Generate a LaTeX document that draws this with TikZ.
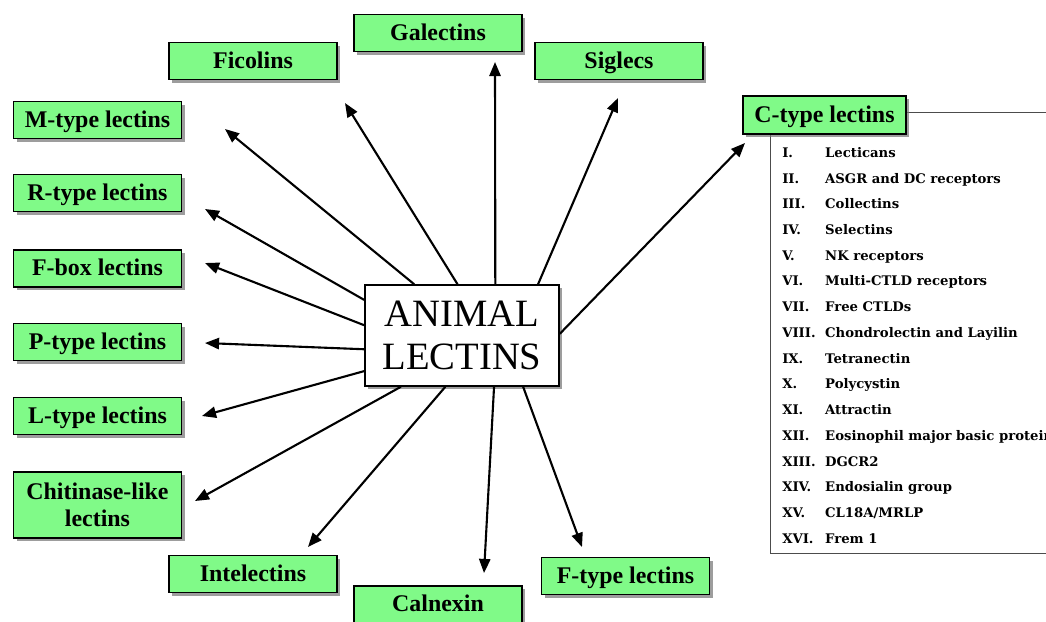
\documentclass[tikz,border=0pt]{standalone}
\usepackage{fontspec}
\setmainfont{Liberation Serif}
\newfontfamily\listfont{DejaVu Serif}
\usetikzlibrary{positioning, shadows, arrows.meta}
\definecolor{lectgreen}{RGB}{128,250,136}
\tikzset{>={Triangle[length=10pt,width=8pt]}}

\begin{document}
\begin{tikzpicture}[x=0.025cm, y=-0.025cm,
	boxshadow/.style={drop shadow={shadow xshift=2.2pt, shadow yshift=-2.2pt, fill=black!55, opacity=0.7}},
	lectin/.style={draw=black, line width=1.1pt, fill=lectgreen, boxshadow, minimum width=4.2cm, minimum height=0.925cm, inner sep=2pt, text height=12.5pt, text depth=2.5pt, font=\bfseries\fontsize{17}{19}\selectfont},
	hub/.style={draw=black, line width=1.1pt, fill=white, boxshadow, minimum width=4.85cm, minimum height=2.525cm, align=center, font=\fontsize{27.5}{30}\selectfont},
	spoke/.style={->, line width=1.5pt}]

			\useasboundingbox (0,0) rectangle (1046,621);
			\clip (0,0) rectangle (1046,621);

			% C-type panel (drawn first, box sits on it)
			\draw [black!70, line width=0.6pt] (770,112) rectangle (1070,553);

			\node [hub] (animal) at (462,335.5) {ANIMAL\\LECTINS};

			\node [lectin] (gal) at (438,33) {Galectins};
			\node [lectin] (fic) at (253,61) {Ficolins};
			\node [lectin] (sig) at (619,61) {Siglecs};
			\node [lectin] (mtype) at (97.5,120) {M-type lectins};
			\node [lectin] (rtype) at (97.5,193) {R-type lectins};
			\node [lectin] (fbox) at (97.5,268.5) {F-box lectins};
			\node [lectin] (ptype) at (97.5,342) {P-type lectins};
			\node [lectin] (ltype) at (97.5,416) {L-type lectins};
			\node [lectin, minimum height=1.65cm, align=center, text height=, text depth=] (chit) at (97.5,505) {Chitinase-like\\lectins};
			\node [lectin] (intel) at (253,574) {Intelectins};
			\node [lectin] (calnex) at (438,604.5) {Calnexin};
			\node [lectin] (ftype) at (625.5,576) {F-type lectins};
			\node [lectin, minimum width=4.075cm, minimum height=0.95cm] (ctype) at (824.5,115) {C-type lectins};

			% subfamilies of C-type lectins
			\node [anchor=north west, inner sep=0pt, font=\listfont\bfseries\fontsize{9.4}{18.3}\selectfont] (ctlist) at (782,139) {%
				\begin{tabular}{@{}p{30.5pt}@{}l@{}}
					I. & Lecticans\\
					II. & ASGR and DC receptors\\
					III. & Collectins\\
					IV. & Selectins\\
					V. & NK receptors\\
					VI. & Multi-CTLD receptors\\
					VII. & Free CTLDs\\
					VIII. & Chondrolectin and Layilin\\
					IX. & Tetranectin\\
					X. & Polycystin\\
					XI. & Attractin\\
					XII. & Eosinophil major basic protein\\
					XIII. & DGCR2\\
					XIV. & Endosialin group\\
					XV. & CL18A/MRLP\\
					XVI. & Frem 1
				\end{tabular}};

			% arrow tips, short of the boxes
			\coordinate (gal-tip) at (495,62);
			\coordinate (fic-tip) at (345,103);
			\coordinate (sig-tip) at (618,98);
			\coordinate (ctype-tip) at (745,143);
			\coordinate (mtype-tip) at (225,129);
			\coordinate (rtype-tip) at (205,209);
			\coordinate (fbox-tip) at (205,263);
			\coordinate (ptype-tip) at (205,343);
			\coordinate (ltype-tip) at (202,416);
			\coordinate (chit-tip) at (195,501);
			\coordinate (intel-tip) at (308,547);
			\coordinate (calnex-tip) at (484,573);
			\coordinate (ftype-tip) at (582,547);

			\draw [spoke] (animal.57) -- (gal-tip);
			\draw [spoke] (animal.95) -- (fic-tip);
			\draw [spoke] (animal.34) -- (sig-tip);
			\draw [spoke] (animal.1) -- (ctype-tip);
			\draw [spoke] (animal.133) -- (mtype-tip);
			\draw [spoke] (animal.160) -- (rtype-tip);
			\draw [spoke] (animal.174) -- (fbox-tip);
			\draw [spoke] (animal.188) -- (ptype-tip);
			\draw [spoke] (animal.200) -- (ltype-tip);
			\draw [spoke] (animal.220) -- (chit-tip);
			\draw [spoke] (animal.252) -- (intel-tip);
			\draw [spoke] (animal.302) -- (calnex-tip);
			\draw [spoke] (animal.320) -- (ftype-tip);

\end{tikzpicture}
\end{document}
